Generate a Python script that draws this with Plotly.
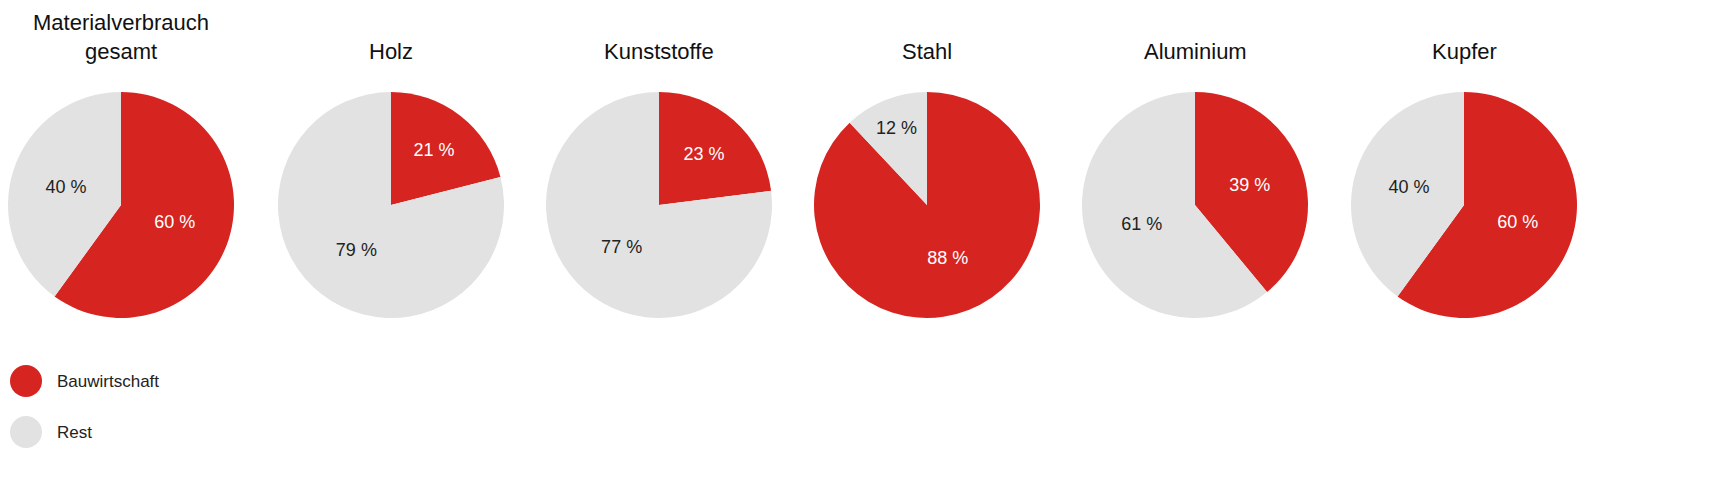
import plotly.graph_objects as go

titles = ["Materialverbrauch<br>gesamt", "Holz", "Kunststoffe", "Stahl", "Aluminium", "Kupfer"]
bau = [60, 21, 23, 88, 39, 60]
rest = [40, 79, 77, 12, 61, 40]
labels = ["Bauwirtschaft", "Rest"]
colors = ["#d62421", "#e2e2e2"]

W, H = 1734, 488
centers = [113, 383, 651, 919, 1187, 1456]
cy, r = 197, 113

fig = go.Figure()
for i, t in enumerate(titles):
    cx = centers[i]
    fig.add_trace(go.Pie(
        labels=labels, values=[bau[i], rest[i]], sort=False, direction="clockwise", rotation=0,
        marker=dict(colors=colors, line=dict(width=0)),
        text=[f"{bau[i]} %", f"{rest[i]} %"], textinfo="text", textposition="inside",
        insidetextfont=dict(color=["white", "#222"], size=18, family="Liberation Sans"),
        insidetextorientation="horizontal",
        domain=dict(x=[(cx - r) / W, (cx + r) / W], y=[1 - (cy + r) / H, 1 - (cy - r) / H]),
        showlegend=False, hoverinfo="label+percent"))
    fig.add_annotation(x=cx / W, y=1 - 58 / H, xref="paper", yref="paper", text=t,
                       showarrow=False, yanchor="bottom", xanchor="center",
                       font=dict(size=22, color="#111", family="Liberation Sans"))

for j, (lab, col) in enumerate(zip(labels, colors)):
    y = 373 + 51 * j
    fig.add_shape(type="circle", xref="paper", yref="paper",
                  x0=2 / W, x1=34 / W, y0=1 - (y + 16) / H, y1=1 - (y - 16) / H,
                  fillcolor=col, line=dict(width=0))
    fig.add_annotation(x=47 / W, y=1 - y / H, xref="paper", yref="paper", text=lab,
                       showarrow=False, xanchor="left", yanchor="middle",
                       font=dict(size=17, color="#222", family="Liberation Sans"))

fig.update_layout(width=W, height=H, margin=dict(l=0, r=0, t=0, b=0),
                  paper_bgcolor="white", plot_bgcolor="white")
fig.write_html("out.html")
